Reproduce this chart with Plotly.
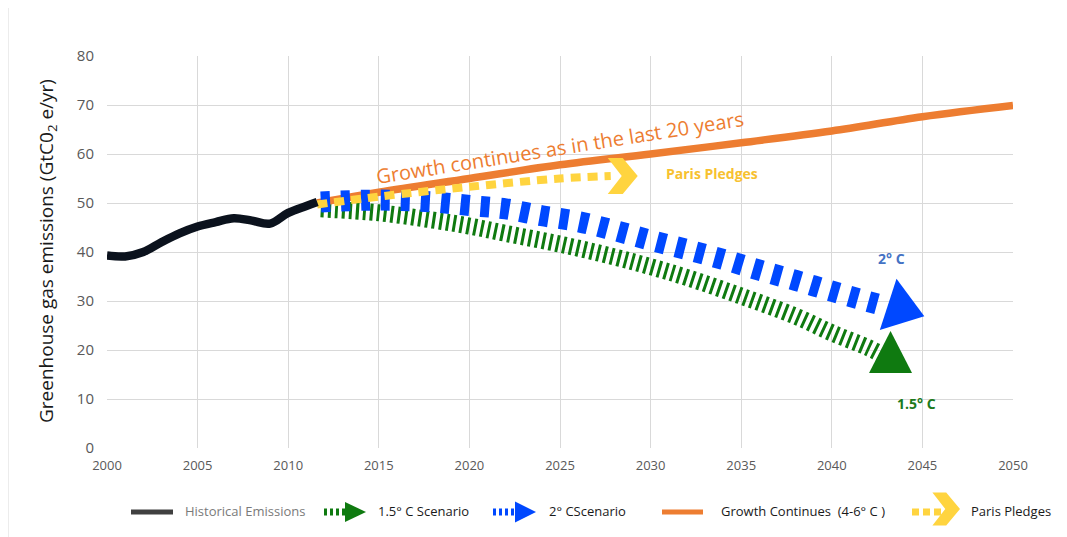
import math
import plotly.graph_objects as go

# ---------------- data ----------------
hist_years = [2000, 2001, 2002, 2003, 2004, 2005, 2006, 2007, 2008, 2009, 2010, 2011, 2011.6]
hist_vals = [39.3, 39.1, 40.0, 42.0, 43.8, 45.2, 46.1, 46.9, 46.4, 45.8, 48.0, 49.4, 50.2]

growth_years = [2011.6, 2015, 2020, 2025, 2030, 2035, 2040, 2045, 2050]
growth_vals = [50.0, 52.2, 55.0, 57.8, 60.0, 62.3, 64.7, 67.6, 69.9]

paris_years = [2011.6, 2015, 2020, 2025, 2027.8]
paris_vals = [49.7, 51.3, 53.3, 55.0, 55.5]

deg2_years = [2011.8, 2015, 2018, 2020, 2022, 2024, 2026, 2028, 2030, 2032, 2034, 2036, 2038, 2040, 2042, 2043]
deg2_vals = [50.2, 50.6, 50.2, 49.5, 48.8, 47.4, 46.2, 44.4, 42.4, 40.5, 38.5, 36.3, 34.2, 32.0, 29.9, 28.9]

deg15_years = [2011.8, 2015, 2018, 2020, 2022, 2025, 2028, 2030, 2032, 2035, 2038, 2040, 2042, 2042.8]
deg15_vals = [48.8, 48.0, 46.5, 45.3, 43.8, 41.6, 39.0, 37.0, 34.8, 31.0, 26.9, 23.5, 20.5, 19.0]

x_ticks = [2000, 2005, 2010, 2015, 2020, 2025, 2030, 2035, 2040, 2045, 2050]
y_ticks = [0, 10, 20, 30, 40, 50, 60, 70, 80]

legend_labels = ["Historical Emissions", "1.5° C Scenario", "2° CScenario",
                 "Growth Continues\u00a0\u00a0(4-6° C )", "Paris Pledges"]

# ---------------- styles / geometry ----------------
OFF = 8                      # page body margin of the browser
W, H = 1067 - OFF, 537 - OFF
L, R, T, B = 107, 1013, 56, 448   # target plot box in screenshot pixels
X0, X1, Y0, Y1 = 2000, 2050, 0, 80
SX = (R - L) / (X1 - X0)
SY = (B - T) / (Y1 - Y0)

C_HIST = "#0b121d"
C_GREEN = "#0f7a10"
C_BLUE = "#0048ff"
C_ORANGE = "#ed7d31"
C_YELLOW = "#ffd43f"
FONT = "Open Sans"


def to_px(xv, yv):
    return L + (xv - X0) * SX, B - (yv - Y0) * SY


def to_data(px, py):
    return X0 + (px - L) / SX, Y0 + (B - py) / SY


def pp(px, py):
    return (px - L) / (R - L), (B - py) / (B - T)


def data_path(pts_px):
    s = ""
    for i, (px, py) in enumerate(pts_px):
        xv, yv = to_data(px, py)
        s += ("M" if i == 0 else "L") + f"{xv:.4f},{yv:.4f} "
    return s + "Z"


def paper_path(pts_px):
    s = ""
    for i, (px, py) in enumerate(pts_px):
        xv, yv = pp(px, py)
        s += ("M" if i == 0 else "L") + f"{xv:.5f},{yv:.5f} "
    return s + "Z"


def triangle(base_c, angle_deg, length, half_w):
    a = math.radians(angle_deg)
    ux, uy = math.cos(a), math.sin(a)
    nx, ny = -uy, ux
    bx, by = base_c
    return [(bx + nx * half_w, by + ny * half_w),
            (bx + ux * length, by + uy * length),
            (bx - nx * half_w, by - ny * half_w)]


CHEV = [(-30, -18), (-15, -18), (0, 0), (-15, 18), (-30, 18), (-16, 0)]


def chevron(tip, scale=1.0):
    tx, ty = tip
    return [(tx + dx * scale, ty + dy * scale) for dx, dy in CHEV]


fig = go.Figure()

fig.add_trace(go.Scatter(x=deg15_years, y=deg15_vals, mode="lines",
                         line=dict(color=C_GREEN, width=17, dash="3px,4px", shape="spline"),
                         showlegend=False, hoverinfo="skip"))
fig.add_trace(go.Scatter(x=growth_years, y=growth_vals, mode="lines",
                         line=dict(color=C_ORANGE, width=7.5, shape="spline"),
                         showlegend=False, hoverinfo="skip"))
fig.add_trace(go.Scatter(x=deg2_years, y=deg2_vals, mode="lines",
                         line=dict(color=C_BLUE, width=21, dash="9px,11px", shape="spline"),
                         showlegend=False, hoverinfo="skip"))
fig.add_trace(go.Scatter(x=paris_years, y=paris_vals, mode="lines",
                         line=dict(color=C_YELLOW, width=8, dash="10px,7px", shape="spline"),
                         showlegend=False, hoverinfo="skip"))
fig.add_trace(go.Scatter(x=hist_years, y=hist_vals, mode="lines",
                         line=dict(color=C_HIST, width=8.5, shape="spline"),
                         showlegend=False, hoverinfo="skip"))

shapes = []
# arrowheads on the chart, anchored to the end points of the series
bx, by = to_px(deg2_years[-1], deg2_vals[-1])
shapes.append(dict(type="path", xref="x", yref="y", layer="above",
                   path=data_path(triangle((bx + 2, by - 2), 18, 38, 27)),
                   fillcolor=C_BLUE, line=dict(width=0)))
gx, gy = to_px(deg15_years[-1], deg15_vals[-1])
shapes.append(dict(type="path", xref="x", yref="y", layer="above",
                   path=data_path(triangle((gx + 8, gy + 18), -90, 42, 21.5)),
                   fillcolor=C_GREEN, line=dict(width=0)))
px_, py_ = to_px(paris_years[-1], paris_vals[-1])
shapes.append(dict(type="path", xref="x", yref="y", layer="above",
                   path=data_path(chevron((px_ + 27, py_))),
                   fillcolor=C_YELLOW, line=dict(width=0)))

# left border line of chart area
bx0, by0 = pp(8, 4)
bx1, by1 = pp(8, 537)
shapes.append(dict(type="line", xref="paper", yref="paper", x0=bx0, x1=bx1, y0=by0, y1=by1,
                   line=dict(color="#d9d9d9", width=1)))

# ---------- manual legend ----------
LY = 512


def hline(x0, x1, color, width, dash="solid"):
    a0, b0 = pp(x0, LY)
    a1, b1 = pp(x1, LY)
    shapes.append(dict(type="line", xref="paper", yref="paper", x0=a0, x1=a1, y0=b0, y1=b1,
                       line=dict(color=color, width=width, dash=dash)))


hline(131, 173, "#404040", 5)
hline(324, 347, C_GREEN, 7, "3px,3px")
shapes.append(dict(type="path", xref="paper", yref="paper",
                   path=paper_path(triangle((345, LY), 0, 21, 10)),
                   fillcolor=C_GREEN, line=dict(width=0)))
hline(493, 516, C_BLUE, 7, "3px,3px")
shapes.append(dict(type="path", xref="paper", yref="paper",
                   path=paper_path(triangle((515, LY), 0, 21, 10.5)),
                   fillcolor=C_BLUE, line=dict(width=0)))
hline(662, 703, C_ORANGE, 5)
hline(912, 942, C_YELLOW, 7, "7px,4px")
shapes.append(dict(type="path", xref="paper", yref="paper",
                   path=paper_path(chevron((960, LY - 3), 0.92)),
                   fillcolor=C_YELLOW, line=dict(width=0)))

annotations = []
leg_x = [183, 376, 547, 719, 969]
leg_col = ["#7a7a7a", "#1a1a1a", "#1a1a1a", "#1a1a1a", "#1a1a1a"]
for lx, lab, col in zip(leg_x, legend_labels, leg_col):
    ax, ay = pp(lx, LY - 1)
    annotations.append(dict(x=ax, y=ay, xref="paper", yref="paper", text=lab,
                            showarrow=False, xanchor="left", yanchor="middle",
                            font=dict(family=FONT, size=13, color=col)))

# y-axis title
tx, ty = pp(47, 251)
annotations.append(dict(x=tx, y=ty, xref="paper", yref="paper", textangle=-90,
                        text="Greenhouse gas emissions (GtC0<sub>2</sub> e/yr)",
                        showarrow=False, xanchor="center", yanchor="middle",
                        font=dict(family=FONT, size=19, color="#1a1a1a")))

# in-chart labels
annotations.append(dict(x=2025.0, y=61.4, xref="x", yref="y", textangle=-9,
                        text="Growth continues as in the last 20 years", showarrow=False,
                        font=dict(family=FONT, size=20, color=C_ORANGE)))
annotations.append(dict(x=2033.4, y=56.1, xref="x", yref="y", text="<b>Paris Pledges</b>",
                        showarrow=False, font=dict(family=FONT, size=14, color="#f7c130")))
annotations.append(dict(x=2043.3, y=38.6, xref="x", yref="y", text="<b>2° C</b>",
                        showarrow=False, font=dict(family=FONT, size=14, color="#4472c4")))
annotations.append(dict(x=2044.7, y=9.0, xref="x", yref="y", text="<b>1.5° C</b>",
                        showarrow=False, font=dict(family=FONT, size=14, color="#1c7a1c")))

fig.update_layout(
    width=W, height=H,
    margin=dict(l=L - OFF, r=W - (R - OFF), t=T - OFF, b=H - (B - OFF)),
    paper_bgcolor="white", plot_bgcolor="white",
    showlegend=False,
    shapes=shapes,
    annotations=annotations,
    xaxis=dict(range=[X0, X1], tickvals=x_ticks, ticktext=[str(v) for v in x_ticks],
               showgrid=True, gridcolor="#d9d9d9", gridwidth=1.3, zeroline=False,
               showline=False, ticks="", ticklabelstandoff=8,
               tickfont=dict(family=FONT, size=13, color="#595959"), fixedrange=True),
    yaxis=dict(range=[Y0, Y1], tickvals=y_ticks, ticktext=[str(v) for v in y_ticks],
               showgrid=True, gridcolor="#d9d9d9", gridwidth=1.3, zeroline=False,
               showline=False, ticks="", ticklabelstandoff=12,
               tickfont=dict(family=FONT, size=15, color="#595959"), fixedrange=True),
)

fig.write_html("out.html")
